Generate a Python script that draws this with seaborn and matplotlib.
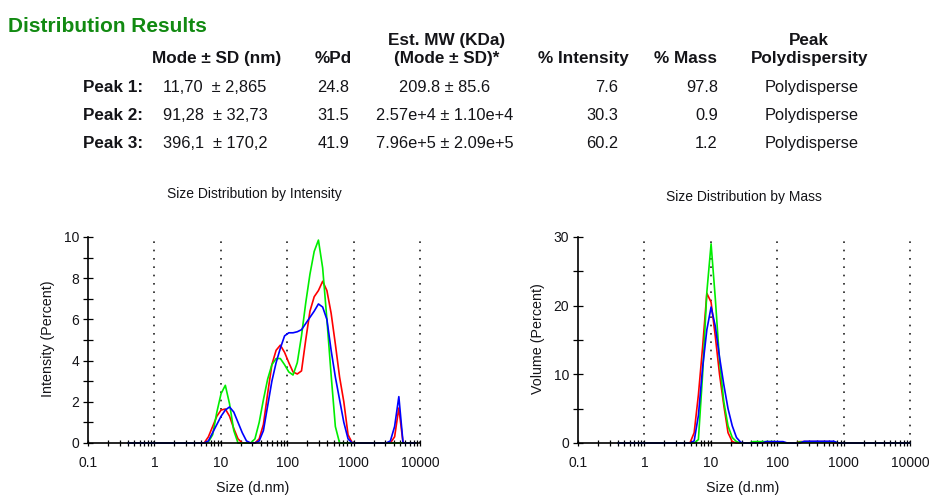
import numpy as np
import pandas as pd
import matplotlib
matplotlib.use("Agg")
import matplotlib.pyplot as plt
from matplotlib.ticker import FixedLocator, NullFormatter
import seaborn as sns

# ---- size classes (d.nm) ----
size_bins = [0.4, 0.4632, 0.5365, 0.6213, 0.7195, 0.8332, 0.9649, 1.117, 1.294, 1.499,
             1.736, 2.010, 2.328, 2.696, 3.122, 3.615, 4.187, 4.849, 5.615, 6.503,
             7.531, 8.721, 10.10, 11.70, 13.54, 15.69, 18.17, 21.04, 24.36, 28.21,
             32.67, 37.84, 43.82, 50.75, 58.77, 68.06, 78.82, 91.28, 105.7, 122.4,
             141.8, 164.2, 190.1, 220.2, 255.0, 295.3, 342.0, 396.1, 458.7, 531.2,
             615.1, 712.4, 825.0, 955.4, 1106, 1281, 1484, 1718, 1990, 2305,
             2669, 3091, 3580, 4145, 4801, 5560, 6439, 7456, 8635, 10000]

# ---- intensity distributions (%) for the three runs ----
int_red = [0]*19 + [0.3, 0.8, 1.3, 1.6, 1.65, 1.3, 0.7, 0.2, 0, 0,
                    0, 0, 0.2, 0.9, 2.4, 3.8, 4.5, 4.75, 4.4, 3.9,
                    3.45, 3.35, 3.5, 5.0, 6.4, 7.1, 7.4, 7.85, 7.4, 6.3,
                    4.8, 3.2, 2.0, 0.4, 0, 0, 0, 0, 0, 0,
                    0, 0, 0, 0, 0.3, 1.7, 0, 0, 0, 0]
int_green = [0]*19 + [0.05, 0.4, 1.5, 2.4, 2.8, 1.9, 0.6, 0, 0, 0,
                      0, 0.2, 1.0, 2.1, 3.1, 3.8, 4.1, 4.1, 3.8, 3.45,
                      3.3, 3.9, 5.2, 6.8, 8.2, 9.3, 9.85, 8.5, 6.0, 3.3,
                      0.8, 0, 0, 0, 0, 0, 0, 0, 0, 0,
                      0, 0, 0, 0, 0, 0, 0, 0, 0, 0]
int_blue = [0]*19 + [0.1, 0.5, 0.9, 1.3, 1.6, 1.75, 1.5, 1.0, 0.5, 0.1,
                     0, 0, 0.1, 0.6, 1.8, 3.0, 3.9, 4.6, 5.2, 5.35,
                     5.35, 5.4, 5.5, 5.8, 6.1, 6.4, 6.75, 6.6, 6.0, 4.5,
                     3.2, 2.1, 1.0, 0.2, 0, 0, 0, 0, 0, 0,
                     0, 0, 0, 0.1, 0.8, 2.25, 0, 0, 0, 0]

# ---- volume distributions (%) for the three runs ----
vol_red = [0]*18 + [1.5, 7.0, 14.0, 21.8, 20.5, 15.5, 10.0, 5.5, 1.5, 0.2,
                    0, 0, 0, 0, 0, 0, 0, 0.1, 0.1, 0.1,
                    0.1, 0, 0, 0, 0, 0.2, 0.2, 0.2, 0.2, 0.2,
                    0.2, 0.2, 0.2, 0, 0, 0, 0, 0, 0, 0,
                    0, 0, 0, 0, 0, 0, 0, 0, 0, 0, 0, 0]
vol_green = [0]*18 + [0, 0.5, 10.0, 22.0, 29.0, 21.0, 12.0, 6.0, 2.5, 0.8,
                      0.2, 0, 0, 0, 0.2, 0.2, 0.2, 0.2, 0.2, 0.2,
                      0, 0, 0, 0, 0, 0.15, 0.15, 0.15, 0.15, 0.15,
                      0.15, 0.15, 0.15, 0.15, 0, 0, 0, 0, 0, 0,
                      0, 0, 0, 0, 0, 0, 0, 0, 0, 0, 0, 0]
vol_blue = [0]*18 + [0.3, 4.0, 11.0, 16.5, 19.8, 17.0, 12.5, 8.5, 5.0, 2.5,
                     0.8, 0.1, 0, 0, 0, 0, 0, 0.2, 0.2, 0.2,
                     0.2, 0.2, 0, 0, 0, 0, 0.25, 0.25, 0.25, 0.25,
                     0.25, 0.25, 0.25, 0.25, 0, 0, 0, 0, 0, 0,
                     0, 0, 0, 0, 0, 0, 0, 0, 0, 0, 0, 0]

runs = ["Record 1", "Record 2", "Record 3"]
run_colors = {"Record 1": "#ff0000", "Record 2": "#00ee00", "Record 3": "#0000ff"}

# ---- results table ----
peak_names = ["Peak 1:", "Peak 2:", "Peak 3:"]
peak_mode = ["11,70", "91,28", "396,1"]
peak_sd = ["2,865", "32,73", "170,2"]
peak_pd = [24.8, 31.5, 41.9]
mw_mode = ["209.8", "2.57e+4", "7.96e+5"]
mw_sd = ["85.6", "1.10e+4", "2.09e+5"]
pct_intensity = [7.6, 30.3, 60.2]
pct_mass = [97.8, 0.9, 1.2]
peak_type = ["Polydisperse", "Polydisperse", "Polydisperse"]

decade_ticks = [0.1, 1, 10, 100, 1000, 10000]
decade_labels = ["0.1", "1", "10", "100", "1000", "10000"]

sns.set_theme(style="white")
plt.rcParams["font.family"] = ["Liberation Sans", "DejaVu Sans"]

W, H = 931, 495
fig = plt.figure(figsize=(W / 100, H / 100), dpi=100)


def px(x, y):
    return x / W, 1 - y / H


def long_frame(series):
    rows = []
    for name, vals in zip(runs, series):
        for s, v in zip(size_bins, vals):
            rows.append((name, s, v))
    return pd.DataFrame(rows, columns=["run", "size", "value"])


TXT = "#141418"


def draw_panel(left_px, series, ymax, ystep, title, ylabel, title_y):
    x0, y0 = px(left_px, 443)
    ax = fig.add_axes([x0, y0, 332 / W, 206 / H])
    df = long_frame(series)
    sns.lineplot(data=df, x="size", y="value", hue="run", hue_order=runs,
                 palette=run_colors, estimator=None, sort=False, legend=False,
                 linewidth=1.2, ax=ax)
    for ln in ax.lines:
        ln.set_clip_on(False)
    ax.set_xscale("log")
    ax.set_xlim(0.1, 10000)
    ax.set_ylim(0, ymax)
    ax.set_xticks(decade_ticks)
    ax.set_xticklabels(decade_labels)
    minors = [m * d for d in [0.1, 1, 10, 100, 1000] for m in range(2, 10)]
    ax.xaxis.set_minor_locator(FixedLocator(minors))
    ax.xaxis.set_minor_formatter(NullFormatter())
    ax.set_yticks(np.arange(0, ymax + 0.1, ystep))
    ax.yaxis.set_minor_locator(FixedLocator(np.arange(ystep / 2, ymax, ystep)))
    ax.tick_params(axis="x", which="both", direction="inout", length=4,
                   width=0.9, color="black", labelsize=10, pad=7.5,
                   labelcolor=TXT, bottom=True)
    ax.tick_params(axis="y", which="both", direction="inout", length=6.5,
                   width=0.9, color="black", labelsize=10, pad=3,
                   labelcolor=TXT, left=True)
    for side in ["top", "right"]:
        ax.spines[side].set_visible(False)
    for side in ["left", "bottom"]:
        ax.spines[side].set_color("black")
        ax.spines[side].set_linewidth(1.2)
    ax.grid(False)
    for d in decade_ticks[1:]:
        ax.axvline(d, color="#222222", linestyle=(0, (1, 4)), linewidth=1.2,
                   zorder=0, clip_on=False)
    ax.set_xlabel("")
    ax.set_ylabel("")
    cx = left_px + 166
    fig.text(*px(cx, title_y), title, ha="center", va="baseline",
             fontsize=10, color=TXT)
    fig.text(*px(cx - 1, 492), "Size (d.nm)", ha="center", va="baseline",
             fontsize=10.3, color=TXT)
    fig.text(*px(left_px - 40, 339), ylabel, ha="center", va="center",
             rotation=90, fontsize=10.3, color=TXT)
    return ax


draw_panel(88, [int_red, int_green, int_blue], 10, 2,
           "Size Distribution by Intensity", "Intensity (Percent)", 198)
draw_panel(578, [vol_red, vol_green, vol_blue], 30, 10,
           "Size Distribution by Mass", "Volume (Percent)", 201)

# ---- header block ----
fig.text(*px(8, 32), "Distribution Results", fontsize=15, fontweight="bold",
         color="#128a12", ha="left", va="baseline")

hdr = dict(fontsize=12.3, fontweight="bold", color=TXT, va="baseline", ha="center")
fig.text(*px(217, 63), "Mode \u00b1 SD (nm)", **hdr)
fig.text(*px(333, 63), "%Pd", **hdr)
fig.text(*px(447, 45), "Est. MW (KDa)", **hdr)
fig.text(*px(447, 63), "(Mode \u00b1 SD)*", **hdr)
fig.text(*px(583, 63), "% Intensity", **hdr)
fig.text(*px(686, 63), "% Mass", **hdr)
fig.text(*px(809, 45), "Peak", **hdr)
fig.text(*px(810, 63), "Polydispersity", **hdr)

row_y = [92, 120, 148]
reg = dict(fontsize=11.8, color=TXT, va="baseline")
for i, y in enumerate(row_y):
    fig.text(*px(83, y), peak_names[i], fontsize=12.3, fontweight="bold",
             color=TXT, va="baseline", ha="left")
    fig.text(*px(163, y), f"{peak_mode[i]}  \u00b1 {peak_sd[i]}", ha="left", **reg)
    fig.text(*px(333, y), f"{peak_pd[i]:.1f}", ha="center", **reg)
    fig.text(*px(445, y), f"{mw_mode[i]} \u00b1 {mw_sd[i]}", ha="center", **reg)
    fig.text(*px(618, y), f"{pct_intensity[i]:.1f}", ha="right", **reg)
    fig.text(*px(718, y), f"{pct_mass[i]:.1f}", ha="right", **reg)
    fig.text(*px(812, y), peak_type[i], ha="center", **reg)

fig.savefig("out.png", dpi=100, facecolor="white")
